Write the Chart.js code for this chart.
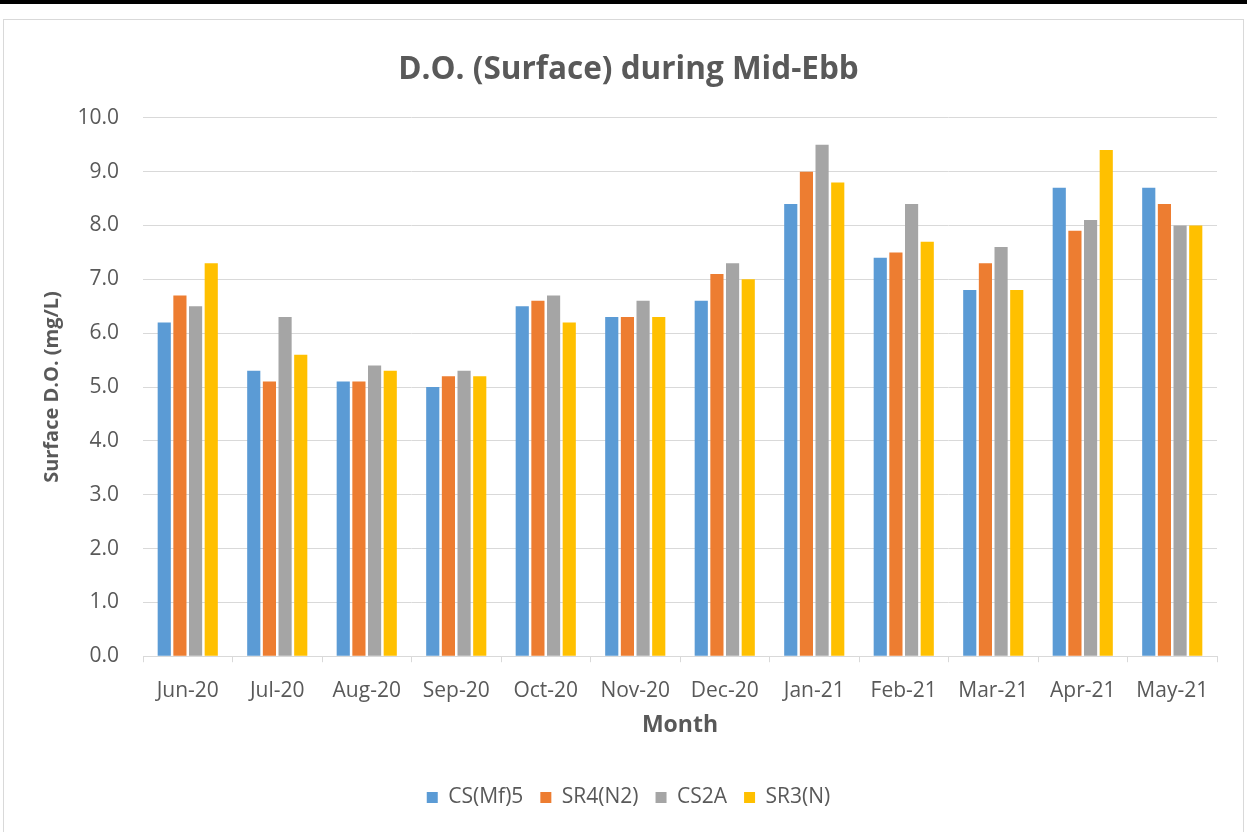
<!DOCTYPE html>
<html>
<head>
<meta charset="utf-8">
<title>D.O. (Surface) during Mid-Ebb</title>
<script src="https://cdn.jsdelivr.net/npm/chart.js@4.4.1/dist/chart.umd.min.js"></script>
<style>
    html, body { margin: 0; padding: 0; background: #ffffff; }
    #wrap { position: relative; width: 1247px; height: 832px; overflow: hidden; }
    #topBand { position: absolute; left: 0; top: 0; width: 1247px; height: 4px; background: #000000; }
    #frame { position: absolute; left: 3px; top: 19px; width: 1239px; height: 830px; border: 1px solid #d9d9d9; }
    #doChart { position: absolute; left: 0; top: 0; }
</style>
</head>
<body>
<div id="wrap">
    <div id="topBand"></div>
    <div id="frame"></div>
    <canvas id="doChart" width="1247" height="832"></canvas>
</div>
<script>
// Monthly surface D.O. readings (mg/L) per station
const months = ['Jun-20', 'Jul-20', 'Aug-20', 'Sep-20', 'Oct-20', 'Nov-20', 'Dec-20', 'Jan-21', 'Feb-21', 'Mar-21', 'Apr-21', 'May-21'];
const csMf5 = [6.2, 5.3, 5.1, 5.0, 6.5, 6.3, 6.6, 8.4, 7.4, 6.8, 8.7, 8.7];
const sr4N2 = [6.7, 5.1, 5.1, 5.2, 6.6, 6.3, 7.1, 9.0, 7.5, 7.3, 7.9, 8.4];
const cs2A = [6.5, 6.3, 5.4, 5.3, 6.7, 6.6, 7.3, 9.5, 8.4, 7.6, 8.1, 8.0];
const sr3N = [7.3, 5.6, 5.3, 5.2, 6.2, 6.3, 7.0, 8.8, 7.7, 6.8, 9.4, 8.0];

const textColor = '#595959';
const gridColor = '#d9d9d9';
const fontFamily = '"Open Sans", "Noto Sans", sans-serif';

const ctx = document.getElementById('doChart');

new Chart(ctx, {
    type: 'bar',
    data: {
        labels: months,
        datasets: [
            { label: 'CS(Mf)5', data: csMf5, backgroundColor: '#5b9bd5' },
            { label: 'SR4(N2)', data: sr4N2, backgroundColor: '#ed7d31' },
            { label: 'CS2A', data: cs2A, backgroundColor: '#a5a5a5' },
            { label: 'SR3(N)', data: sr3N, backgroundColor: '#ffc000' }
        ]
    },
    options: {
        responsive: false,
        animation: false,
        devicePixelRatio: 1,
        datasets: {
            bar: {
                categoryPercentage: 0.7,
                barPercentage: 0.84,
                borderWidth: 0
            }
        },
        layout: {
            padding: { left: 40, right: 30, top: 20, bottom: 14 }
        },
        plugins: {
            title: {
                display: true,
                text: 'D.O. (Surface) during Mid-Ebb',
                color: textColor,
                font: { family: fontFamily, size: 31.5, weight: 'bold' },
                padding: { top: 31, bottom: 29 }
            },
            legend: {
                position: 'bottom',
                labels: {
                    color: textColor,
                    font: { family: fontFamily, size: 21 },
                    boxWidth: 11,
                    boxHeight: 11,
                    padding: 17
                }
            },
            tooltip: { enabled: false }
        },
        scales: {
            x: {
                grid: {
                    display: true,
                    drawOnChartArea: false,
                    drawTicks: true,
                    tickLength: 6,
                    color: gridColor,
                    offset: true
                },
                border: { color: gridColor },
                ticks: {
                    color: textColor,
                    font: { family: fontFamily, size: 21 },
                    padding: 16,
                    maxRotation: 0
                },
                title: {
                    display: true,
                    text: 'Month',
                    color: textColor,
                    font: { family: fontFamily, size: 23, weight: 'bold' },
                    padding: { top: -8, bottom: 31 }
                }
            },
            y: {
                min: 0,
                max: 10,
                afterFit: scale => { scale.width = 103; },
                grid: {
                    color: gridColor,
                    drawTicks: false
                },
                border: { display: false },
                ticks: {
                    stepSize: 1,
                    color: textColor,
                    font: { family: fontFamily, size: 21 },
                    padding: 24,
                    callback: value => Number(value).toFixed(1)
                },
                title: {
                    display: true,
                    text: 'Surface D.O. (mg/L)',
                    color: textColor,
                    font: { family: fontFamily, size: 20, weight: 'bold' },
                    padding: { top: 0, bottom: 0 }
                }
            }
        }
    }
});
</script>
</body>
</html>
